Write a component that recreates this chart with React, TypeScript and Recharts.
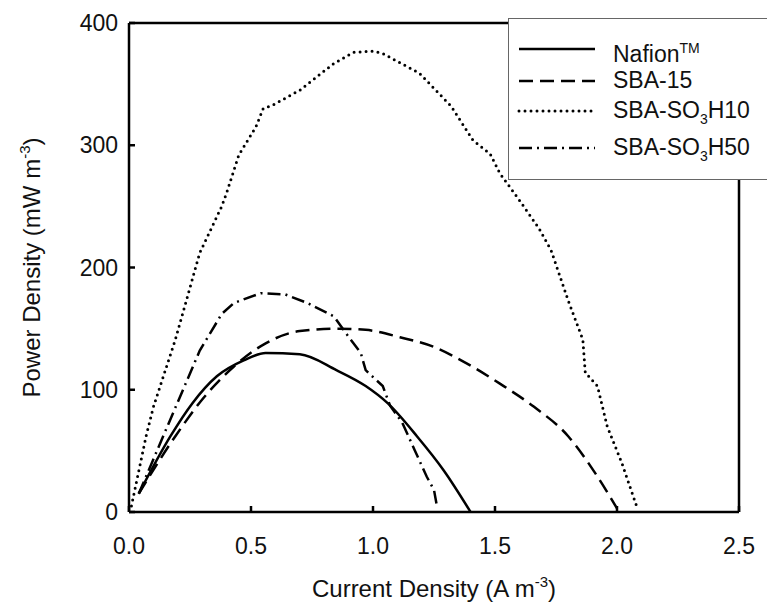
import { Line, LineChart, ReferenceLine, XAxis, YAxis } from 'recharts';

// [current density, power density]
const nafion: [number, number][] = [
  [0.04, 15], [0.17, 62], [0.26, 89], [0.36, 111], [0.47, 124], [0.56, 130], [0.7, 129],
  [0.85, 116], [0.97, 103], [1.06, 89], [1.18, 62], [1.29, 34], [1.4, 0],
];
const sba15: [number, number][] = [
  [0.04, 15], [0.19, 62], [0.3, 92], [0.43, 119], [0.56, 138], [0.7, 148], [0.86, 150],
  [0.97, 149], [1.11, 143], [1.25, 135], [1.38, 122], [1.52, 105], [1.66, 86], [1.8, 62],
  [1.91, 32], [2.0, 3],
];
const sbaSo3h10: [number, number][] = [
  [0.01, 5], [0.07, 62], [0.1, 86], [0.19, 141], [0.29, 212], [0.38, 250], [0.4, 261],
  [0.45, 292], [0.52, 315], [0.55, 330], [0.59, 333], [0.7, 345], [0.84, 367], [0.92, 376],
  [1.0, 377], [1.04, 375], [1.19, 359], [1.32, 332], [1.41, 304], [1.48, 293], [1.52, 277],
  [1.6, 255], [1.68, 232], [1.73, 214], [1.8, 173], [1.86, 141], [1.87, 114], [1.92, 103],
  [1.96, 70], [2.02, 40], [2.08, 5],
];
const sbaSo3h50: [number, number][] = [
  [0.04, 15], [0.14, 62], [0.29, 132], [0.38, 162], [0.43, 171], [0.54, 179], [0.64, 178],
  [0.73, 171], [0.84, 160], [0.89, 146], [0.95, 130], [0.97, 116], [1.04, 103], [1.07, 87],
  [1.12, 73], [1.17, 51], [1.22, 29], [1.25, 18], [1.26, 7],
];

const xTicks = [0, 0.5, 1.0, 1.5, 2.0, 2.5];
const yTicks = [0, 100, 200, 300, 400];

const toRows = (pts: [number, number][]) => pts.map(([x, y]) => ({ x, y }));

const FONT = '"Liberation Sans", Arial, sans-serif';

const series = [
  { name: 'nafion', data: nafion, dash: undefined as string | undefined, cap: 'butt' as const, w: 2.5, type: 'monotone' as const },
  { name: 'sba15', data: sba15, dash: '14 7', cap: 'butt' as const, w: 2.5, type: 'monotone' as const },
  { name: 'h10', data: sbaSo3h10, dash: '0 6', cap: 'round' as const, w: 3, type: 'linear' as const },
  { name: 'h50', data: sbaSo3h50, dash: '13 5 2 5', cap: 'butt' as const, w: 2.5, type: 'linear' as const },
];

const XTick = ({ x, y, payload }: any) => (
  <g>
    <line x1={x} y1={y} x2={x} y2={y - 6} stroke="#000" strokeWidth={2.5} />
    <text x={x} y={y + 34} dy="0.35em" textAnchor="middle" fontSize={23} fontFamily={FONT} fill="#111">
      {Number(payload.value).toFixed(1)}
    </text>
  </g>
);

const YTick = ({ x, y, payload }: any) => (
  <g>
    <line x1={x} y1={y} x2={x + 6} y2={y} stroke="#000" strokeWidth={2.5} />
    <text x={x - 11} y={y} dy="0.35em" textAnchor="end" fontSize={23} fontFamily={FONT} fill="#111">
      {payload.value}
    </text>
  </g>
);

const XLabel = ({ viewBox }: any) => {
  const cx = viewBox.x + viewBox.width / 2;
  return (
    <text x={cx} y={597} textAnchor="middle" fontSize={24} fontFamily={FONT} fill="#111">
      Current Density (A m<tspan dy={-10} fontSize={15}>-3</tspan><tspan dy={10}>)</tspan>
    </text>
  );
};

const YLabel = ({ viewBox }: any) => {
  const cy = viewBox.y + viewBox.height / 2;
  const cx = 40;
  return (
    <text x={cx} y={cy} transform={`rotate(-90, ${cx}, ${cy})`} textAnchor="middle" fontSize={24} fontFamily={FONT} fill="#111">
      Power Density (mW m<tspan dy={-10} fontSize={15}>-3</tspan><tspan dy={10}>)</tspan>
    </text>
  );
};

const Sample = ({ dash, cap, w }: { dash?: string; cap: 'butt' | 'round'; w: number }) => (
  <svg width={80} height={12} style={{ display: 'block' }}>
    <line x1={2} y1={6} x2={78} y2={6} stroke="#000" strokeWidth={w} strokeDasharray={dash} strokeLinecap={cap} />
  </svg>
);

const rowText = { fontFamily: FONT, fontSize: 23, color: '#111', lineHeight: '26px' };

const LegendBox = () => {
  const rows = [
    { top: 30, s: series[0], label: <>Nafion<sup style={{ fontSize: 14 }}>TM</sup></> },
    { top: 62, s: series[1], label: <>SBA-15</> },
    { top: 92, s: series[2], label: <>SBA-SO<sub style={{ fontSize: 14 }}>3</sub>H10</> },
    { top: 129, s: series[3], label: <>SBA-SO<sub style={{ fontSize: 14 }}>3</sub>H50</> },
  ];
  return (
    <div style={{ position: 'absolute', left: 508, top: 18, width: 320, height: 162, border: '1.5px solid #666', background: '#fff', boxSizing: 'border-box' }}>
      {rows.map((r) => (
        <div key={r.s.name}>
          <div style={{ position: 'absolute', left: 8, top: r.top - 6 }}>
            <Sample dash={r.s.dash} cap={r.s.cap} w={r.s.w} />
          </div>
          <div style={{ position: 'absolute', left: 104, top: r.top - 14, whiteSpace: 'nowrap', ...rowText }}>{r.label}</div>
        </div>
      ))}
    </div>
  );
};

export default function App() {
  return (
    <div style={{ position: 'absolute', left: 0, top: 0, width: 767, height: 607, background: '#fff', overflow: 'hidden' }}>
      <LineChart width={767} height={607} margin={{ top: 23, right: 28, bottom: 55, left: 69 }}>
        <XAxis
          type="number"
          dataKey="x"
          domain={[0, 2.5]}
          ticks={xTicks}
          height={40}
          axisLine={{ stroke: '#000', strokeWidth: 2.5 }}
          tickLine={false}
          tickSize={0}
          tickMargin={0}
          tick={<XTick />}
          label={<XLabel />}
        />
        <YAxis
          type="number"
          dataKey="y"
          domain={[0, 400]}
          ticks={yTicks}
          width={60}
          axisLine={{ stroke: '#000', strokeWidth: 2.5 }}
          tickLine={false}
          tickSize={0}
          tickMargin={0}
          tick={<YTick />}
          label={<YLabel />}
        />
        <ReferenceLine y={400} stroke="#000" strokeWidth={2.5} />
        <ReferenceLine x={2.5} stroke="#000" strokeWidth={2.5} />
        {series.map((s) => (
          <Line
            key={s.name}
            data={toRows(s.data)}
            dataKey="y"
            type={s.type}
            stroke="#000"
            strokeWidth={s.w}
            strokeDasharray={s.dash}
            strokeLinecap={s.cap}
            dot={false}
            activeDot={false}
            isAnimationActive={false}
          />
        ))}
      </LineChart>
      <LegendBox />
    </div>
  );
}
